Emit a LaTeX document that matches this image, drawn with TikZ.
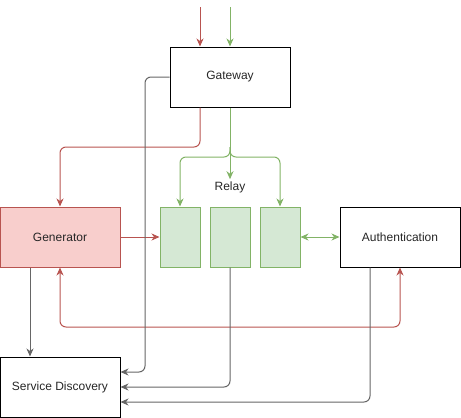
\documentclass[tikz,border=0pt]{standalone}
\usepackage{fontspec}
\setmainfont{Liberation Sans}
\usetikzlibrary{arrows.meta}
\definecolor{redstroke}{HTML}{B85450}
\definecolor{redfill}{HTML}{F8CECC}
\definecolor{greenstroke}{HTML}{82B366}
\definecolor{greenfill}{HTML}{D5E8D4}
\definecolor{graystroke}{HTML}{666666}
\tikzset{
  box/.style={draw=black, line width=1pt, minimum width=120pt, minimum height=60pt, inner sep=0pt, font=\fontsize{12pt}{14pt}\selectfont, text=black!85},
  redbox/.style={box, draw=redstroke, fill=redfill},
  relaybox/.style={draw=greenstroke, fill=greenfill, line width=1pt, minimum width=40pt, minimum height=60pt, inner sep=0pt},
  conn/.style={line width=1pt, rounded corners=6pt, -{Stealth[length=8pt,width=7pt,inset=2.5pt]}},
  dconn/.style={conn, {Stealth[length=8pt,width=7pt,inset=2.5pt]}-{Stealth[length=8pt,width=7pt,inset=2.5pt]}},
  lbl/.style={font=\fontsize{12pt}{14pt}\selectfont, text=black!85, inner sep=2pt}
}
\begin{document}
\begin{tikzpicture}[x=1pt,y=-1pt]
\useasboundingbox (0,0) rectangle (461,418);
\node[box] (gw) at (230,77) {Gateway};
\node[redbox] (gen) at (60,237) {Generator};
\node[relaybox] (b1) at (180,237) {};
\node[relaybox] (b2) at (230,237) {};
\node[relaybox] (b3) at (280,237) {};
\node[lbl] (rl) at (230,187) {Relay};
\node[box] (auth) at (400,237) {Authentication};
\node[box] (sd) at (60,387) {Service Discovery};
\coordinate (r0) at (200,7);
\coordinate (g0) at (230,7);
\coordinate (br) at (230,147);
% top inputs
\draw[conn, redstroke] (r0) -- ([xshift=-30pt]gw.north);
\draw[conn, greenstroke] (g0) -- (gw.north);
% gateway to generator
\draw[conn, redstroke] ([xshift=-30pt]gw.south) -- (200,147) -- (60,147) -- (gen.north);
% gateway to relay
\draw[conn, greenstroke] (gw.south) -- (rl.north);
\draw[conn, greenstroke] (br) -- (230,157) -- (180,157) -- (b1.north);
\draw[conn, greenstroke] (br) -- (230,157) -- (280,157) -- (b3.north);
% generator to relay
\draw[conn, redstroke] (gen.east) -- (b1.west);
% relay to auth
\draw[dconn, greenstroke] (b3.east) -- (auth.west);
% generator <-> auth
\draw[dconn, redstroke] (gen.south) -- (60,327) -- (400,327) -- (auth.south);
% to service discovery
\draw[conn, graystroke] ([xshift=-30pt]gen.south) -- ([xshift=-30pt]sd.north);
\draw[conn, graystroke] (gw.west) -- (145,77) -- (145,372) -- ([yshift=15pt]sd.east);
\draw[conn, graystroke] (b2.south) -- (230,387) -- (sd.east);
\draw[conn, graystroke] ([xshift=-30pt]auth.south) -- (370,402) -- ([yshift=-15pt]sd.east);
\end{tikzpicture}
\end{document}
